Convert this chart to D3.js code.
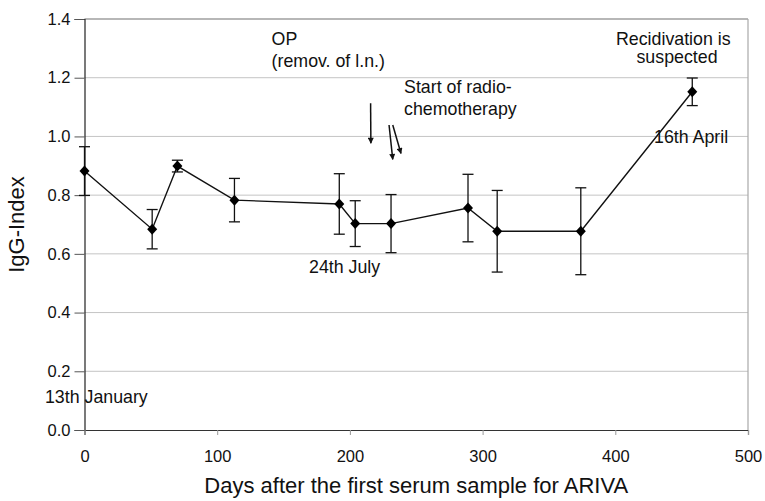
<!DOCTYPE html>
<html>
<head>
<meta charset="utf-8">
<script src="https://cdn.jsdelivr.net/npm/d3@7"></script>
<style>
  body { margin: 0; background: #fff; }
  text { font-family: "Liberation Sans", Arial, sans-serif; fill: #111; }
</style>
</head>
<body>
<div id="chart"></div>
<script>
// IgG-Index over time
var days = [0, 51, 70, 113, 192, 204, 231, 289, 311, 374, 458]
var igg  = [0.882, 0.684, 0.899, 0.783, 0.770, 0.703, 0.703, 0.756, 0.677, 0.677, 1.152]
var errs = [0.083, 0.067, 0.020, 0.074, 0.103, 0.078, 0.099, 0.115, 0.139, 0.148, 0.047]

var xTicks = [0, 100, 200, 300, 400, 500]
var yTicks = [0, 0.2, 0.4, 0.6, 0.8, 1.0, 1.2, 1.4]

// notes in chart units (days, index)
var noteText   = ["OP", "(remov. of l.n.)", "Start of radio-", "chemotherapy", "Recidivation is", "suspected", "16th April", "24th July", "13th January"]
var noteDay    = [141, 141, 240.8, 240.8, 443.7, 446.5, 429.2, 169.2, -29.8]
var noteVal    = [1.311, 1.237, 1.147, 1.073, 1.311, 1.249, 0.976, 0.534, 0.091]
var noteAnchor = ["start", "start", "start", "start", "middle", "middle", "start", "start", "start"]

// arrows: [fromDay, fromVal, toDay, toVal]
var arrows = [[215.6, 1.113, 215.8, 0.977], [229.5, 1.039, 232.3, 0.922], [232.3, 1.039, 238.5, 0.942]]

var W = 765, H = 501
// (don't call it "top", that's window.top)
var pl = 84.5, pr = 748, pt = 19, pb = 430

var svg = d3.select("#chart").append("svg")
svg.attr("width", W).attr("height", H)

var x = d3.scaleLinear().domain([0, 500]).range([pl, pr])
var y = d3.scaleLinear().domain([0, 1.4]).range([pb, pt])

// gridlines
svg.selectAll("line.grid")
   .data(yTicks.slice(1))
   .enter()
   .append("line")
   .attr("class", "grid")
   .attr("x1", pl).attr("x2", pr)
   .attr("y1", function(d) { return y(d) })
   .attr("y2", function(d) { return y(d) })
   .attr("stroke", "#c4c4c4")
   .attr("stroke-width", 1)

// plot border (top and right are grey)
svg.append("line")
   .attr("x1", pl).attr("x2", pr).attr("y1", pt).attr("y2", pt)
   .attr("stroke", "#a8a8a8").attr("stroke-width", 1.5)
svg.append("line")
   .attr("x1", pr).attr("x2", pr).attr("y1", pt).attr("y2", pb)
   .attr("stroke", "#a8a8a8").attr("stroke-width", 1.2)

// axes
var yAxis = d3.axisLeft(y).tickValues(yTicks).tickFormat(d3.format(".1f")).tickSize(10).tickPadding(4)
var gy = svg.append("g").attr("transform", "translate(" + pl + ",0)").call(yAxis)
gy.select(".domain").attr("stroke", "#222").attr("stroke-width", 1.2)
gy.selectAll(".tick line").attr("stroke", "#555")
gy.selectAll(".tick text").style("font-size", "16.5px").attr("fill", "#111")

var xAxis = d3.axisBottom(x).tickValues(xTicks).tickSize(5).tickPadding(15)
var gx = svg.append("g").attr("transform", "translate(0," + pb + ")").call(xAxis)
gx.select(".domain").attr("stroke", "#333").attr("stroke-width", 1.2)
gx.selectAll(".tick line").attr("stroke", "#999")
gx.selectAll(".tick text").style("font-size", "16.5px").attr("fill", "#111")

// axis titles
svg.append("text")
   .attr("transform", "translate(24," + ((pt + pb) / 2) + ") rotate(-90)")
   .attr("text-anchor", "middle")
   .style("font-size", "22px")
   .text("IgG-Index")

svg.append("text")
   .attr("x", (pl + pr) / 2).attr("y", 493)
   .attr("text-anchor", "middle")
   .style("font-size", "22px")
   .text("Days after the first serum sample for ARIVA")

var pts = days.map(function(d, i) { return {d: d, v: igg[i], e: errs[i]} })

// line
var line = d3.line().x(function(p) { return x(p.d) }).y(function(p) { return y(p.v) })
svg.append("path")
   .datum(pts)
   .attr("d", line)
   .attr("fill", "none")
   .attr("stroke", "#111")
   .attr("stroke-width", 1.4)

// error bars
var eb = svg.selectAll("g.err").data(pts).enter().append("g").attr("class", "err")
eb.append("line")
  .attr("x1", function(p) { return x(p.d) }).attr("x2", function(p) { return x(p.d) })
  .attr("y1", function(p) { return y(p.v + p.e) }).attr("y2", function(p) { return y(p.v - p.e) })
  .attr("stroke", "#111").attr("stroke-width", 1.3)
eb.selectAll("line.cap")
  .data(function(p) { return [{d: p.d, v: p.v + p.e}, {d: p.d, v: p.v - p.e}] })
  .enter()
  .append("line")
  .attr("class", "cap")
  .attr("x1", function(c) { return x(c.d) - 5.5 }).attr("x2", function(c) { return x(c.d) + 5.5 })
  .attr("y1", function(c) { return y(c.v) }).attr("y2", function(c) { return y(c.v) })
  .attr("stroke", "#111").attr("stroke-width", 1.3)

// diamond markers
svg.selectAll("path.mark")
   .data(pts)
   .enter()
   .append("path")
   .attr("class", "mark")
   .attr("d", "M0,-5.5L5,0L0,5.5L-5,0Z")
   .attr("transform", function(p) { return "translate(" + x(p.d) + "," + y(p.v) + ")" })
   .attr("fill", "#000")

// arrows
svg.append("defs").append("marker")
   .attr("id", "head")
   .attr("viewBox", "0 0 10 10")
   .attr("refX", 9).attr("refY", 5)
   .attr("markerWidth", 7).attr("markerHeight", 6)
   .attr("markerUnits", "userSpaceOnUse")
   .attr("orient", "auto")
   .append("path").attr("d", "M0,0L10,5L0,10Z").attr("fill", "#111")

svg.selectAll("line.arrow")
   .data(arrows)
   .enter()
   .append("line")
   .attr("class", "arrow")
   .attr("x1", function(a) { return x(a[0]) }).attr("y1", function(a) { return y(a[1]) })
   .attr("x2", function(a) { return x(a[2]) }).attr("y2", function(a) { return y(a[3]) })
   .attr("stroke", "#111").attr("stroke-width", 1.5)
   .attr("marker-end", "url(#head)")

// annotation text
svg.selectAll("text.note")
   .data(noteText)
   .enter()
   .append("text")
   .attr("class", "note")
   .attr("x", function(t, i) { return x(noteDay[i]) })
   .attr("y", function(t, i) { return y(noteVal[i]) })
   .attr("text-anchor", function(t, i) { return noteAnchor[i] })
   .style("font-size", "17.8px")
   .text(function(t) { return t })
</script>
</body>
</html>
